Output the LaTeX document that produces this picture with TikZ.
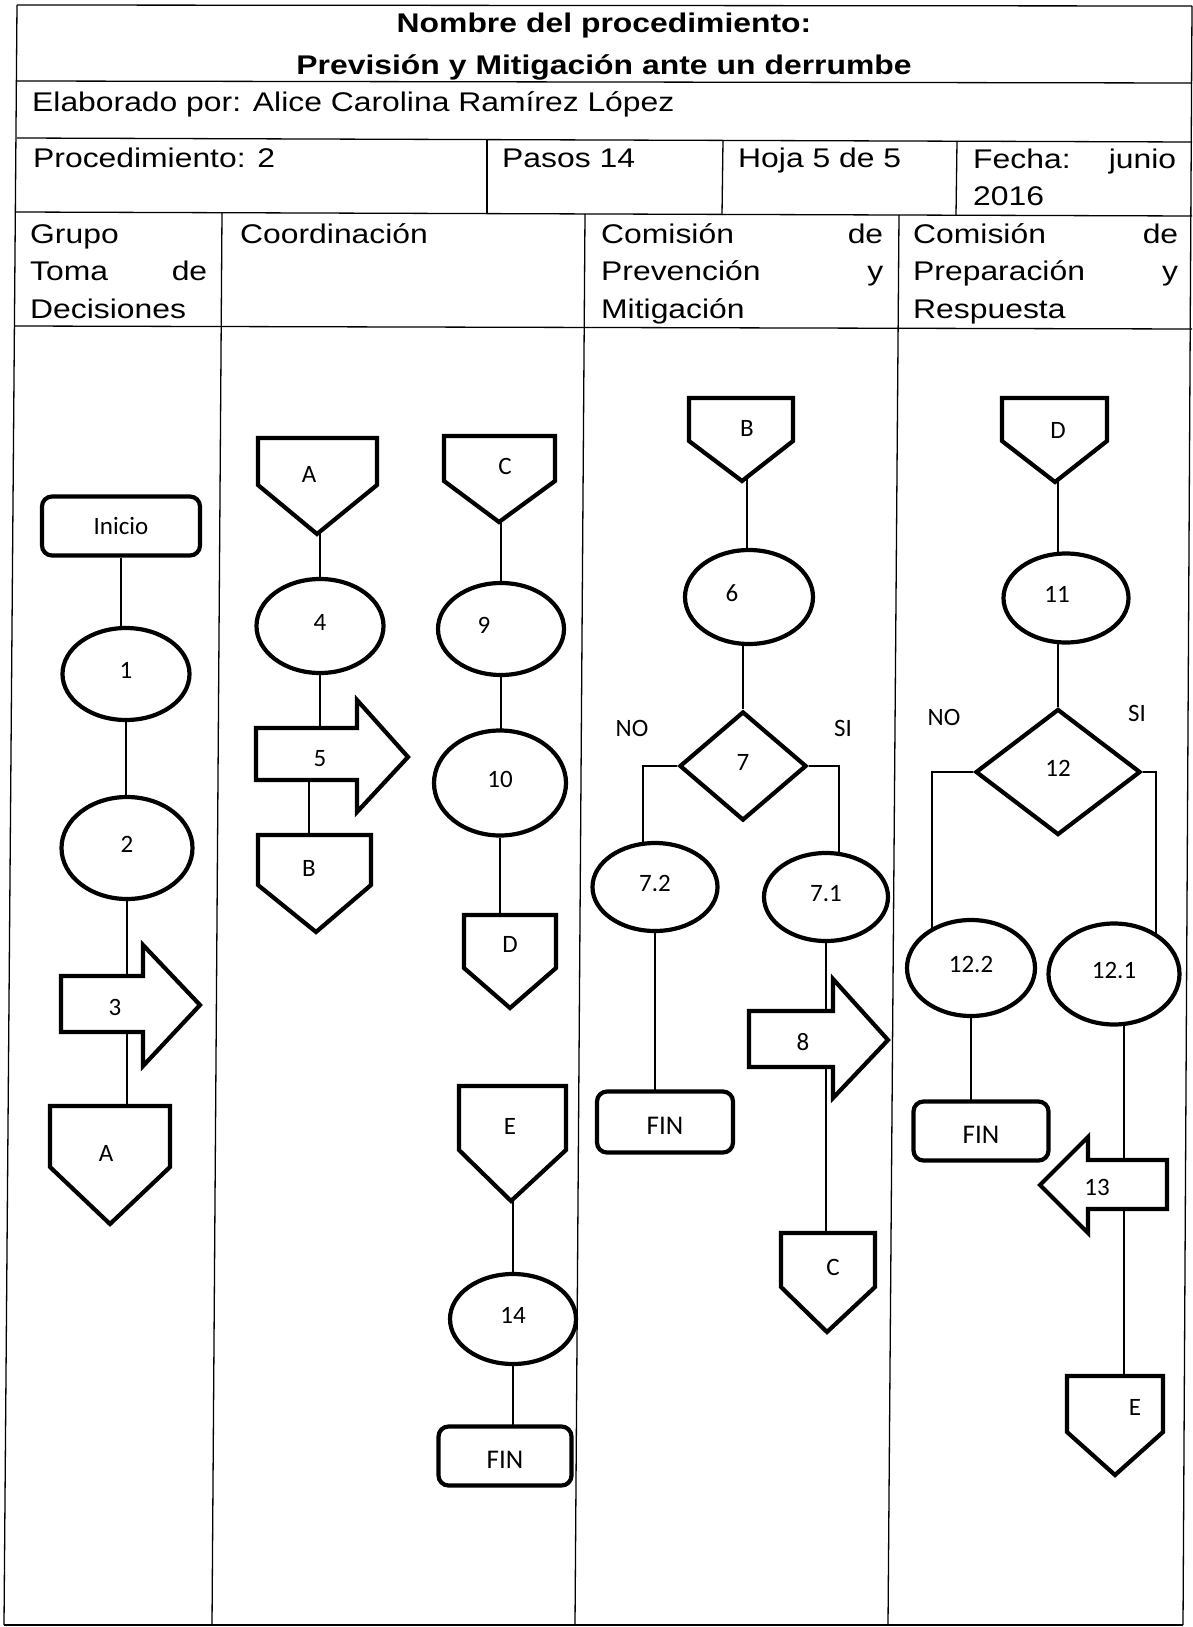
\documentclass[tikz,border=0pt]{standalone}
\usepackage{fontspec}
\setmainfont{Liberation Sans}
\newfontfamily\tabfont[FakeStretch=1.18]{Liberation Sans}
\newfontfamily\lblfont{Carlito}
\usetikzlibrary{shapes.geometric,backgrounds}

\begin{document}
\begin{tikzpicture}[x=1pt, y=-1pt,
    tabline/.style={line width=1.3pt},
    txt/.style={inner sep=0pt, font=\tabfont\fontsize{27}{37.5}\selectfont},
    lblf/.style={font=\lblfont\fontsize{25}{30}\selectfont},
    lbl/.style={inner sep=0pt, lblf},
    shp/.style={draw, line width=4.2pt, fill=white},
    oval/.style={shp, ellipse, inner sep=0pt, text depth=8pt, lblf},
    rhomb/.style={shp, diamond, inner sep=0pt, text depth=8pt, lblf},
    term/.style={shp, rectangle, rounded corners=10pt, inner sep=0pt, lblf},
    fin/.style={term, text height=25pt, font=\lblfont\fontsize{27}{30}\selectfont},
    conn/.style={line width=1.8pt}]

  \useasboundingbox (0,0) rectangle (1193,1627);

  % table
  \draw[tabline] (17,5) -- (1192,6);
  \draw[tabline] (17,81) -- (1192,83);
  \draw[tabline] (17,138) -- (1192,142);
  \draw[tabline] (16,212) -- (1192,216);
  \draw[tabline] (15,326) -- (1192,329);
  \draw[tabline] (17,5) -- (4,1625);
  \draw[tabline] (1192,6) -- (1183,1625);
  \draw[tabline] (4,1625) -- (1183,1625);
  \draw[tabline] (487,139) -- (487,214);
  \draw[tabline] (723,140) -- (722,215);
  \draw[tabline] (957,141) -- (956,215);
  \draw[tabline] (222,213) -- (212,1625);
  \draw[tabline] (585,214) -- (575,1625);
  \draw[tabline] (899,215) -- (888,1625);

  \node[txt, font=\tabfont\bfseries\fontsize{27}{42}\selectfont, text width=1100pt, align=center, anchor=base] (ttl) at (604,33) {Nombre del procedimiento:\\Previsión y Mitigación ante un derrumbe};
  \node[txt, anchor=base west] (elab) at (32,112) {Elaborado por: Alice Carolina Ramírez López};
  \node[txt, anchor=base west] (proc) at (33,167) {Procedimiento: 2};
  \node[txt, anchor=base west] (pasos) at (502,167) {Pasos 14};
  \node[txt, anchor=base west] (hoja) at (738,167) {Hoja 5 de 5};
  \node[txt, anchor=base west, text width=203pt, align=left] (fecha) at (973,168) {Fecha:\hspace{0pt plus 1filll}junio\\2016};
  \node[txt, anchor=base west, text width=177pt, align=left] (lane1) at (30,243) {Grupo\\Toma\hspace{0pt plus 1filll}de\\Decisiones};
  \node[txt, anchor=base west] (lane2) at (240,243) {Coordinación};
  \node[txt, anchor=base west, text width=282pt, align=left] (lane3) at (601,243) {Comisión\hspace{0pt plus 1filll}de\\Prevención\hspace{0pt plus 1filll}y\\Mitigación};
  \node[txt, anchor=base west, text width=265pt, align=left] (lane4) at (913,243) {Comisión\hspace{0pt plus 1filll}de\\Preparación\hspace{0pt plus 1filll}y\\Respuesta};

  % Grupo Toma de Decisiones
  \node[term, minimum width=158pt, minimum height=59pt] (ini) at (121,526) {Inicio};
  \node[oval, minimum width=127pt, minimum height=92pt] (s1) at (126,674) {1};
  \node[oval, minimum width=131pt, minimum height=102pt] (s2) at (127,848) {2};
  \draw[shp] (61,976) -- (143,976) -- (143,945) -- (200,1005) -- (143,1066) -- (143,1032) -- (61,1032) -- cycle;
  \node[lbl] (s3) at (115,1007) {3};
  \draw[shp] (50,1106) -- (170,1106) -- (170,1167) -- (110,1224) -- (50,1167) -- cycle;
  \node[lbl] (cA1) at (106,1153) {A};

  % Coordinacion
  \draw[shp] (258,438) -- (377,438) -- (377,485) -- (317,534) -- (258,485) -- cycle;
  \node[lbl] (cA2) at (309,474) {A};
  \node[oval, minimum width=127pt, minimum height=94pt] (s4) at (320,626) {4};
  \draw[shp] (256,728) -- (357,728) -- (357,700) -- (408,757) -- (357,812) -- (357,780) -- (256,780) -- cycle;
  \node[lbl] (s5) at (320,759) {5};
  \draw[shp] (258,835) -- (371,835) -- (371,885) -- (316,932) -- (258,885) -- cycle;
  \node[lbl] (cB2) at (309,868) {B};

  \draw[shp] (444,436) -- (555,436) -- (555,481) -- (499,522) -- (444,481) -- cycle;
  \node[lbl] (cC2) at (505,466) {C};
  \node[oval, minimum width=126pt, minimum height=92pt] (s9) at (501,629) {9\kern34pt};
  \node[oval, minimum width=132pt, minimum height=105pt] (s10) at (500,783) {10};
  \draw[shp] (464,915) -- (556,915) -- (556,968) -- (510,1008) -- (464,968) -- cycle;
  \node[lbl] (cD2) at (510,944) {D};
  \draw[shp] (459,1086) -- (566,1086) -- (566,1150) -- (511,1201) -- (459,1150) -- cycle;
  \node[lbl] (cE2) at (510,1126) {E};
  \node[oval, minimum width=126pt, minimum height=90pt] (s14) at (513,1319) {14};
  \node[fin, minimum width=133pt, minimum height=59pt] (fin2) at (505,1456) {FIN};

  % Comision de Prevencion y Mitigacion
  \draw[shp] (689,398) -- (793,398) -- (793,441) -- (742,481) -- (689,441) -- cycle;
  \node[lbl] (cB3) at (747,428) {B};
  \node[oval, minimum width=128pt, minimum height=94pt] (s6) at (749,597) {6\kern34pt};
  \node[rhomb, minimum width=127pt, minimum height=109pt] (d7) at (743,766) {7};
  \node[lbl] (no7) at (632,728) {NO};
  \node[lbl] (si7) at (843,728) {SI};
  \node[oval, minimum width=125pt, minimum height=88pt] (s72) at (655,887) {7.2};
  \node[oval, minimum width=124pt, minimum height=88pt] (s71) at (826,897) {7.1};
  \node[fin, minimum width=136pt, minimum height=61pt] (fin3) at (665,1122) {FIN};
  \draw[shp] (749,1011) -- (833,1011) -- (833,979) -- (888,1040) -- (833,1098) -- (833,1067) -- (749,1067) -- cycle;
  \node[lbl] (s8) at (803,1042) {8};
  \draw[shp] (781,1233) -- (875,1233) -- (875,1287) -- (827,1332) -- (781,1287) -- cycle;
  \node[lbl] (cC3) at (833,1267) {C};

  % Comision de Preparacion y Respuesta
  \draw[shp] (1002,398) -- (1107,398) -- (1107,441) -- (1055,482) -- (1002,441) -- cycle;
  \node[lbl] (cD4) at (1058,430) {D};
  \node[oval, minimum width=125pt, minimum height=89pt] (s11) at (1066,598) {11\kern18pt};
  \node[rhomb, minimum width=165pt, minimum height=126pt] (d12) at (1058,772) {12};
  \node[lbl] (no12) at (944,717) {NO};
  \node[lbl] (si12) at (1137,713) {SI};
  \node[oval, minimum width=128pt, minimum height=96pt] (s122) at (971,968) {12.2};
  \node[oval, minimum width=131pt, minimum height=101pt] (s121) at (1114,974) {12.1};
  \coordinate (s121r) at ([xshift=10pt]s121.center);
  \node[fin, minimum width=135pt, minimum height=59pt] (fin4) at (981,1131) {FIN};
  \draw[shp] (1167,1160) -- (1088,1160) -- (1088,1137) -- (1040,1185) -- (1088,1233) -- (1088,1209) -- (1167,1209) -- cycle;
  \node[lbl] (s13) at (1097,1187) {13};
  \draw[shp] (1067,1376) -- (1163,1376) -- (1163,1432) -- (1115,1475) -- (1067,1432) -- cycle;
  \node[lbl] (cE4) at (1135,1407) {E};

  \begin{pgfonlayer}{background}
    \fill[white] (0,0) rectangle (1193,1627);
    \draw[conn] (ini) -- (ini |- s1);
    \draw[conn] (s1) -- (s1 |- s2);
    \draw[conn] (s2) -- (s2 |- cA1);

    \draw[conn] (s4) -- (s4 |- cA2);
    \draw[conn] (s4) -- (s4 |- s5);
    \draw[conn] (cB2) -- (cB2 |- s5);
    \draw[conn] (s9) -- (s9 |- cC2);
    \draw[conn] (s9) -- (s9 |- s10);
    \draw[conn] (s10) -- (s10 |- cD2);
    \draw[conn] (s14) -- (s14 |- cE2);
    \draw[conn] (s14) -- (s14 |- fin2);

    \draw[conn] (cB3) -- (cB3 |- s6);
    \draw[conn] (d7) -- (d7 |- s6);
    \draw[conn] (d7.west) -| ([xshift=-12pt]s72.center);
    \draw[conn] (d7.east) -| ([xshift=13pt]s71.center);
    \draw[conn] (s72) -- (s72 |- fin3);
    \draw[conn] (s71) -- (s71 |- cC3);

    \draw[conn] (cD4) -- (cD4 |- s11);
    \draw[conn] (d12) -- (d12 |- s11);
    \draw[conn] (d12.west) -| ([xshift=-39pt]s122.center);
    \draw[conn] (d12.east) -| ([xshift=42pt]s121.center);
    \draw[conn] (s122) -- (s122 |- fin4);
    \draw[conn] (s121r) -- (s121r |- cE4);
  \end{pgfonlayer}
\end{tikzpicture}
\end{document}
